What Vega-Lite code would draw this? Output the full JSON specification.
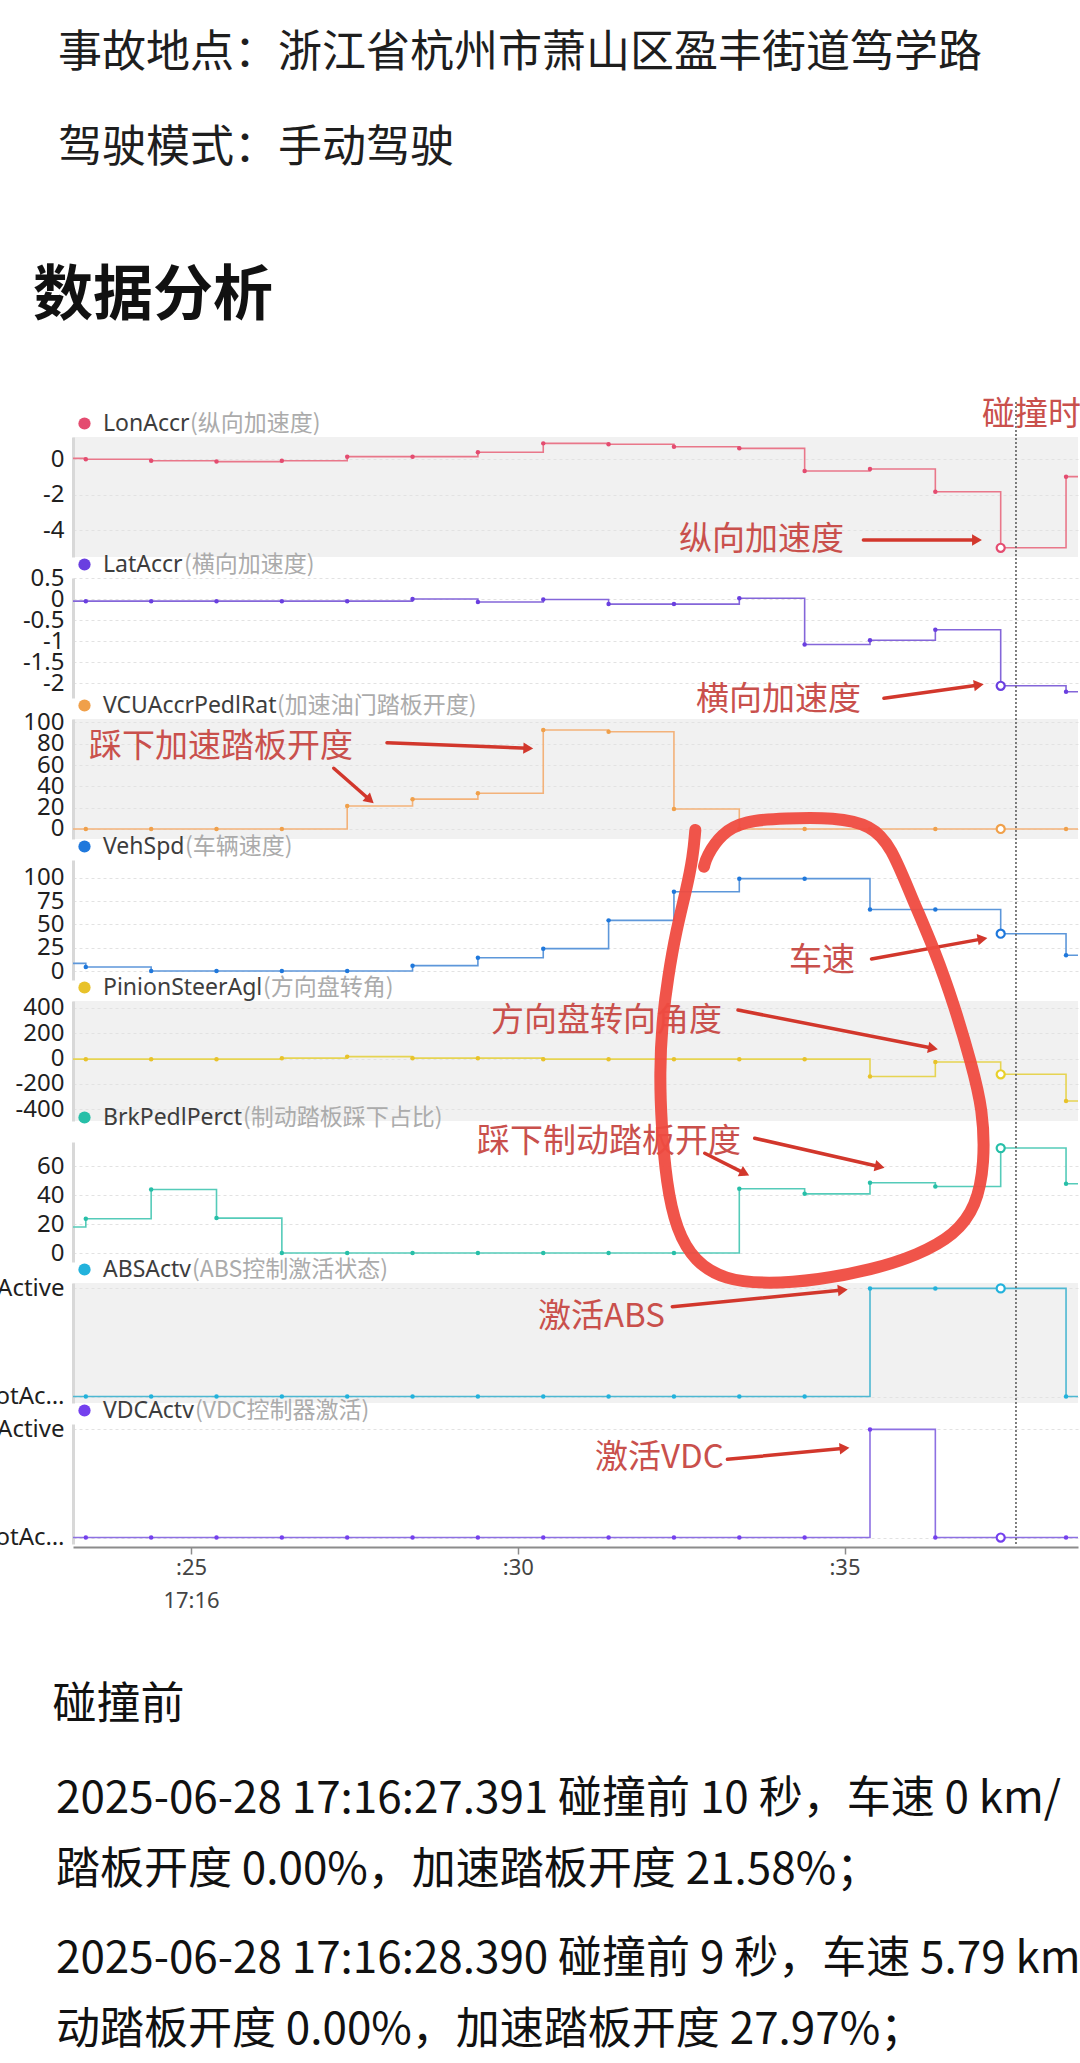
{
  "$schema": "https://vega.github.io/schema/vega-lite/v6.json",
  "background": "white",
  "padding": {"left": -24, "top": 32, "right": 0, "bottom": 0},
  "title": {
    "text": ["事故地点：浙江省杭州市萧山区盈丰街道笃学路", "驾驶模式：手动驾驶"],
    "anchor": "start", "frame": "group", "dx": -15,
    "font": "Noto Sans CJK SC", "fontSize": 44, "fontWeight": "normal", "color": "#1e1e1e",
    "lineHeight": 95, "offset": 96
  },
  "datasets": {
    "sig": [
      {"s":"Lon","t":22.39,"v":0.05},{"s":"Lon","t":23.39,"v":0},{"s":"Lon","t":24.39,"v":-0.08},{"s":"Lon","t":25.39,"v":-0.13},{"s":"Lon","t":26.39,"v":-0.08},{"s":"Lon","t":27.39,"v":0.15},{"s":"Lon","t":28.39,"v":0.15},{"s":"Lon","t":29.39,"v":0.4},{"s":"Lon","t":30.39,"v":0.9},{"s":"Lon","t":31.39,"v":0.85},{"s":"Lon","t":32.39,"v":0.71},{"s":"Lon","t":33.39,"v":0.62},{"s":"Lon","t":34.39,"v":-0.66},{"s":"Lon","t":35.39,"v":-0.55},{"s":"Lon","t":36.39,"v":-1.83},{"s":"Lon","t":37.39,"v":-5.0},{"s":"Lon","t":38.39,"v":-0.98},{"s":"Lon","t":39.39,"v":-0.98},
      {"s":"Lat","t":22.39,"v":-0.05},{"s":"Lat","t":23.39,"v":-0.05},{"s":"Lat","t":24.39,"v":-0.05},{"s":"Lat","t":25.39,"v":-0.05},{"s":"Lat","t":26.39,"v":-0.05},{"s":"Lat","t":27.39,"v":-0.05},{"s":"Lat","t":28.39,"v":0.0},{"s":"Lat","t":29.39,"v":-0.07},{"s":"Lat","t":30.39,"v":-0.01},{"s":"Lat","t":31.39,"v":-0.12},{"s":"Lat","t":32.39,"v":-0.12},{"s":"Lat","t":33.39,"v":0.02},{"s":"Lat","t":34.39,"v":-1.08},{"s":"Lat","t":35.39,"v":-0.98},{"s":"Lat","t":36.39,"v":-0.73},{"s":"Lat","t":37.39,"v":-2.06},{"s":"Lat","t":38.39,"v":-2.2},{"s":"Lat","t":39.39,"v":-2.2},
      {"s":"VCU","t":22.39,"v":0},{"s":"VCU","t":23.39,"v":0},{"s":"VCU","t":24.39,"v":0},{"s":"VCU","t":25.39,"v":0},{"s":"VCU","t":26.39,"v":0},{"s":"VCU","t":27.39,"v":21.58},{"s":"VCU","t":28.39,"v":27.97},{"s":"VCU","t":29.39,"v":33.5},{"s":"VCU","t":30.39,"v":92.9},{"s":"VCU","t":31.39,"v":91.3},{"s":"VCU","t":32.39,"v":18.8},{"s":"VCU","t":33.39,"v":0},{"s":"VCU","t":34.39,"v":0},{"s":"VCU","t":35.39,"v":0},{"s":"VCU","t":36.39,"v":0},{"s":"VCU","t":37.39,"v":0},{"s":"VCU","t":38.39,"v":0},{"s":"VCU","t":39.39,"v":0},
      {"s":"Veh","t":22.39,"v":8.2},{"s":"Veh","t":23.39,"v":4.3},{"s":"Veh","t":24.39,"v":0},{"s":"Veh","t":25.39,"v":0},{"s":"Veh","t":26.39,"v":0},{"s":"Veh","t":27.39,"v":0},{"s":"Veh","t":28.39,"v":5.79},{"s":"Veh","t":29.39,"v":14.3},{"s":"Veh","t":30.39,"v":24},{"s":"Veh","t":31.39,"v":54.3},{"s":"Veh","t":32.39,"v":85},{"s":"Veh","t":33.39,"v":99},{"s":"Veh","t":34.39,"v":99},{"s":"Veh","t":35.39,"v":66},{"s":"Veh","t":36.39,"v":66},{"s":"Veh","t":37.39,"v":40},{"s":"Veh","t":38.39,"v":17},{"s":"Veh","t":39.39,"v":17},
      {"s":"Pin","t":22.39,"v":-5},{"s":"Pin","t":23.39,"v":-5},{"s":"Pin","t":24.39,"v":-5},{"s":"Pin","t":25.39,"v":-5},{"s":"Pin","t":26.39,"v":3},{"s":"Pin","t":27.39,"v":15},{"s":"Pin","t":28.39,"v":3},{"s":"Pin","t":29.39,"v":3},{"s":"Pin","t":30.39,"v":-5},{"s":"Pin","t":31.39,"v":-5},{"s":"Pin","t":32.39,"v":-5},{"s":"Pin","t":33.39,"v":-5},{"s":"Pin","t":34.39,"v":-5},{"s":"Pin","t":35.39,"v":-142},{"s":"Pin","t":36.39,"v":-27},{"s":"Pin","t":37.39,"v":-124},{"s":"Pin","t":38.39,"v":-334},{"s":"Pin","t":39.39,"v":-334},
      {"s":"Brk","t":22.39,"v":18},{"s":"Brk","t":23.39,"v":23.7},{"s":"Brk","t":24.39,"v":44},{"s":"Brk","t":25.39,"v":24.2},{"s":"Brk","t":26.39,"v":0},{"s":"Brk","t":27.39,"v":0},{"s":"Brk","t":28.39,"v":0},{"s":"Brk","t":29.39,"v":0},{"s":"Brk","t":30.39,"v":0},{"s":"Brk","t":31.39,"v":0},{"s":"Brk","t":32.39,"v":0},{"s":"Brk","t":33.39,"v":44.5},{"s":"Brk","t":34.39,"v":41},{"s":"Brk","t":35.39,"v":48.7},{"s":"Brk","t":36.39,"v":46.1},{"s":"Brk","t":37.39,"v":72.7},{"s":"Brk","t":38.39,"v":48},{"s":"Brk","t":39.39,"v":48},
      {"s":"ABS","t":22.39,"v":0},{"s":"ABS","t":23.39,"v":0},{"s":"ABS","t":24.39,"v":0},{"s":"ABS","t":25.39,"v":0},{"s":"ABS","t":26.39,"v":0},{"s":"ABS","t":27.39,"v":0},{"s":"ABS","t":28.39,"v":0},{"s":"ABS","t":29.39,"v":0},{"s":"ABS","t":30.39,"v":0},{"s":"ABS","t":31.39,"v":0},{"s":"ABS","t":32.39,"v":0},{"s":"ABS","t":33.39,"v":0},{"s":"ABS","t":34.39,"v":0},{"s":"ABS","t":35.39,"v":1},{"s":"ABS","t":36.39,"v":1},{"s":"ABS","t":37.39,"v":1},{"s":"ABS","t":38.39,"v":0},{"s":"ABS","t":39.39,"v":0},
      {"s":"VDC","t":22.39,"v":0},{"s":"VDC","t":23.39,"v":0},{"s":"VDC","t":24.39,"v":0},{"s":"VDC","t":25.39,"v":0},{"s":"VDC","t":26.39,"v":0},{"s":"VDC","t":27.39,"v":0},{"s":"VDC","t":28.39,"v":0},{"s":"VDC","t":29.39,"v":0},{"s":"VDC","t":30.39,"v":0},{"s":"VDC","t":31.39,"v":0},{"s":"VDC","t":32.39,"v":0},{"s":"VDC","t":33.39,"v":0},{"s":"VDC","t":34.39,"v":0},{"s":"VDC","t":35.39,"v":1},{"s":"VDC","t":36.39,"v":0},{"s":"VDC","t":37.39,"v":0},{"s":"VDC","t":38.39,"v":0},{"s":"VDC","t":39.39,"v":0}
    ],
    "ann": [
      {"p":"Lon","label":"碰撞时","t":37.104,"v":2.503},
      {"p":"Lon","label":"纵向加速度","t":32.467,"v":-4.559},
      {"p":"Lat","label":"横向加速度","t":32.728,"v":-2.398},
      {"p":"VCU","label":"踩下加速踏板开度","t":23.439,"v":77.2},
      {"p":"Veh","label":"车速","t":34.151,"v":10.7},
      {"p":"Pin","label":"方向盘转向角度","t":29.591,"v":295.5},
      {"p":"Brk","label":"踩下制动踏板开度","t":29.376,"v":77.1},
      {"p":"ABS","label":"激活ABS","t":30.31,"v":0.738},
      {"p":"VDC","label":"激活VDC","t":31.182,"v":0.733}
    ],
    "arrows": [
      {"p":"Lon","id":"lon","k":0,"t":35.289,"v":-4.559},{"p":"Lon","id":"lon","k":1,"t":37.027,"v":-4.559},
      {"p":"Lat","id":"lat","k":0,"t":35.604,"v":-2.357},{"p":"Lat","id":"lat","k":1,"t":37.055,"v":-2.042},
      {"p":"VCU","id":"vcu1","k":0,"t":27.999,"v":81.0},{"p":"VCU","id":"vcu1","k":1,"t":30.161,"v":75.7},
      {"p":"VCU","id":"vcu2","k":0,"t":27.184,"v":57.0},{"p":"VCU","id":"vcu2","k":1,"t":27.738,"v":27.2},
      {"p":"Veh","id":"veh","k":0,"t":35.413,"v":12.9},{"p":"Veh","id":"veh","k":1,"t":37.112,"v":34.5},
      {"p":"Pin","id":"pin","k":0,"t":33.37,"v":382},{"p":"Pin","id":"pin","k":1,"t":36.354,"v":80.6},
      {"p":"Brk","id":"brkA","k":0,"t":33.626,"v":79.5},{"p":"Brk","id":"brkA","k":1,"t":35.539,"v":59.8},
      {"p":"Brk","id":"brkB","k":0,"t":32.861,"v":69.1},{"p":"Brk","id":"brkB","k":1,"t":33.473,"v":55.2},
      {"p":"ABS","id":"abs","k":0,"t":32.365,"v":0.831},{"p":"ABS","id":"abs","k":1,"t":34.974,"v":0.985},
      {"p":"VDC","id":"vdc","k":0,"t":33.208,"v":0.723},{"p":"VDC","id":"vdc","k":1,"t":35.0,"v":0.825}
    ],
    "loop": [
      {"i":0,"t":32.717,"v":6.545},{"i":1,"t":32.682,"v":6.298},{"i":2,"t":32.579,"v":5.99},{"i":3,"t":32.426,"v":5.62},{"i":4,"t":32.299,"v":5.188},{"i":5,"t":32.207,"v":4.757},{"i":6,"t":32.172,"v":4.294},{"i":7,"t":32.197,"v":3.832},{"i":8,"t":32.273,"v":3.277},{"i":9,"t":32.426,"v":2.845},{"i":10,"t":32.708,"v":2.551},{"i":11,"t":33.167,"v":2.382},{"i":12,"t":33.829,"v":2.345},{"i":13,"t":34.594,"v":2.382},{"i":14,"t":35.41,"v":2.475},{"i":15,"t":36.125,"v":2.613},{"i":16,"t":36.686,"v":2.798},{"i":17,"t":37.017,"v":3.06},{"i":18,"t":37.145,"v":3.462},{"i":19,"t":37.119,"v":3.955},{"i":20,"t":36.94,"v":4.387},{"i":21,"t":36.686,"v":4.91},{"i":22,"t":36.38,"v":5.435},{"i":23,"t":36.022,"v":5.928},{"i":24,"t":35.716,"v":6.39},{"i":25,"t":35.41,"v":6.591},{"i":26,"t":34.85,"v":6.662},{"i":27,"t":34.085,"v":6.653},{"i":28,"t":33.473,"v":6.631},{"i":29,"t":33.115,"v":6.514},{"i":30,"t":32.885,"v":6.298},{"i":31,"t":32.85,"v":6.205}
    ],
    "coll": [{"t":37.624,"v":-0.06,"v2":10.52}]
  },
  "spacing": 21,
  "bounds": "flush",
  "resolve": {"scale": {"x": "independent", "y": "independent", "color": "independent"}, "legend": {"color": "independent"}},
  "vconcat": [
    {
      "width": 1005, "height": 120,
      "view": {"fill": "#f1f1f1", "stroke": null},
      "title": {"text": "数据分析", "anchor": "start", "frame": "group", "dx": -40, "font": "Noto Sans CJK SC", "fontSize": 60, "fontWeight": "bold", "color": "#111111", "offset": 71},
      "encoding": {
        "x": {"field": "t", "type": "quantitative", "scale": {"domain": [23.194, 38.573], "nice": false, "zero": false}, "axis": null},
        "y": {"field": "v", "type": "quantitative", "scale": {"domain": [-5.52, 1.26], "nice": false, "zero": false}, "axis": {"values": [0, -2, -4], "title": null}}
      },
      "layer": [
        {"data": {"name": "sig"}, "transform": [{"filter": "datum.s == 'Lon'"}], "mark": {"type": "line", "interpolate": "step-after", "color": "#e9778a", "strokeWidth": 1.6, "clip": true}},
        {"data": {"name": "sig"}, "transform": [{"filter": "datum.s == 'Lon'"}], "mark": {"type": "point", "filled": true, "size": 20, "opacity": 1, "clip": true}, "encoding": {"color": {"datum": "LonAccr", "scale": {"range": ["#e44c70"]}, "legend": {"title": "(纵向加速度)"}}}},
        {"data": {"name": "sig"}, "transform": [{"filter": "datum.s == 'Lon' && datum.t == 37.39"}], "mark": {"type": "point", "filled": true, "fill": "white", "stroke": "#e44c70", "strokeWidth": 2.2, "size": 65, "opacity": 1}},
        {"data": {"name": "ann"}, "transform": [{"filter": "datum.p == 'Lon'"}], "mark": {"type": "text"}, "encoding": {"text": {"field": "label"}}},
        {"data": {"name": "arrows"}, "transform": [{"filter": "datum.p == 'Lon'"}], "mark": {"type": "line", "color": "#d2372c", "strokeWidth": 3.5, "strokeCap": "round"}, "encoding": {"detail": {"field": "id"}, "order": {"field": "k"}}},
        {"data": {"name": "arrows"}, "transform": [{"filter": "datum.id == 'lon' && datum.k == 1"}], "mark": {"type": "point", "shape": "triangle-right", "filled": true, "size": 130, "opacity": 1, "color": "#d2372c", "angle": 0}}
      ]
    },
    {
      "width": 1005, "height": 120,
      "view": {"stroke": null},
      "encoding": {
        "x": {"field": "t", "type": "quantitative", "scale": {"domain": [23.194, 38.573], "nice": false, "zero": false}, "axis": null},
        "y": {"field": "v", "type": "quantitative", "scale": {"domain": [-2.35, 0.5], "nice": false, "zero": false}, "axis": {"values": [0.5, 0, -0.5, -1, -1.5, -2], "format": "~g", "title": null}}
      },
      "layer": [
        {"data": {"name": "sig"}, "transform": [{"filter": "datum.s == 'Lat'"}], "mark": {"type": "line", "interpolate": "step-after", "color": "#8466d9", "strokeWidth": 1.6, "clip": true}},
        {"data": {"name": "sig"}, "transform": [{"filter": "datum.s == 'Lat'"}], "mark": {"type": "point", "filled": true, "size": 20, "opacity": 1, "clip": true}, "encoding": {"color": {"datum": "LatAccr", "scale": {"range": ["#6a3fe0"]}, "legend": {"title": "(横向加速度)"}}}},
        {"data": {"name": "sig"}, "transform": [{"filter": "datum.s == 'Lat' && datum.t == 37.39"}], "mark": {"type": "point", "filled": true, "fill": "white", "stroke": "#6a3fe0", "strokeWidth": 2.2, "size": 65, "opacity": 1}},
        {"data": {"name": "ann"}, "transform": [{"filter": "datum.p == 'Lat'"}], "mark": {"type": "text"}, "encoding": {"text": {"field": "label"}}},
        {"data": {"name": "arrows"}, "transform": [{"filter": "datum.p == 'Lat'"}], "mark": {"type": "line", "color": "#d2372c", "strokeWidth": 3.5, "strokeCap": "round"}, "encoding": {"detail": {"field": "id"}, "order": {"field": "k"}}},
        {"data": {"name": "arrows"}, "transform": [{"filter": "datum.id == 'lat' && datum.k == 1"}], "mark": {"type": "point", "shape": "triangle-right", "filled": true, "size": 130, "opacity": 1, "color": "#d2372c", "angle": -8}}
      ]
    },
    {
      "width": 1005, "height": 120,
      "view": {"fill": "#f1f1f1", "stroke": null},
      "encoding": {
        "x": {"field": "t", "type": "quantitative", "scale": {"domain": [23.194, 38.573], "nice": false, "zero": false}, "axis": null},
        "y": {"field": "v", "type": "quantitative", "scale": {"domain": [-9.4, 103.2], "nice": false, "zero": false}, "axis": {"values": [0, 20, 40, 60, 80, 100], "title": null}}
      },
      "layer": [
        {"data": {"name": "sig"}, "transform": [{"filter": "datum.s == 'VCU'"}], "mark": {"type": "line", "interpolate": "step-after", "color": "#f3b27a", "strokeWidth": 1.6, "clip": true}},
        {"data": {"name": "sig"}, "transform": [{"filter": "datum.s == 'VCU'"}], "mark": {"type": "point", "filled": true, "size": 20, "opacity": 1, "clip": true}, "encoding": {"color": {"datum": "VCUAccrPedlRat", "scale": {"range": ["#f0a04a"]}, "legend": {"title": "(加速油门踏板开度)"}}}},
        {"data": {"name": "sig"}, "transform": [{"filter": "datum.s == 'VCU' && datum.t == 37.39"}], "mark": {"type": "point", "filled": true, "fill": "white", "stroke": "#f0a04a", "strokeWidth": 2.2, "size": 65, "opacity": 1}},
        {"data": {"name": "ann"}, "transform": [{"filter": "datum.p == 'VCU'"}], "mark": {"type": "text"}, "encoding": {"text": {"field": "label"}}},
        {"data": {"name": "arrows"}, "transform": [{"filter": "datum.p == 'VCU'"}], "mark": {"type": "line", "color": "#d2372c", "strokeWidth": 3.5, "strokeCap": "round"}, "encoding": {"detail": {"field": "id"}, "order": {"field": "k"}}},
        {"data": {"name": "arrows"}, "transform": [{"filter": "datum.id == 'vcu1' && datum.k == 1"}], "mark": {"type": "point", "shape": "triangle-right", "filled": true, "size": 130, "opacity": 1, "color": "#d2372c", "angle": 2.3}},
        {"data": {"name": "arrows"}, "transform": [{"filter": "datum.id == 'vcu2' && datum.k == 1"}], "mark": {"type": "point", "shape": "triangle-right", "filled": true, "size": 130, "opacity": 1, "color": "#d2372c", "angle": 41}}
      ]
    },
    {
      "width": 1005, "height": 120,
      "view": {"stroke": null},
      "encoding": {
        "x": {"field": "t", "type": "quantitative", "scale": {"domain": [23.194, 38.573], "nice": false, "zero": false}, "axis": null},
        "y": {"field": "v", "type": "quantitative", "scale": {"domain": [-9.6, 119], "nice": false, "zero": false}, "axis": {"values": [0, 25, 50, 75, 100], "title": null}}
      },
      "layer": [
        {"data": {"name": "sig"}, "transform": [{"filter": "datum.s == 'Veh'"}], "mark": {"type": "line", "interpolate": "step-after", "color": "#5d97da", "strokeWidth": 1.6, "clip": true}},
        {"data": {"name": "sig"}, "transform": [{"filter": "datum.s == 'Veh'"}], "mark": {"type": "point", "filled": true, "size": 20, "opacity": 1, "clip": true}, "encoding": {"color": {"datum": "VehSpd", "scale": {"range": ["#1f78dc"]}, "legend": {"title": "(车辆速度)"}}}},
        {"data": {"name": "sig"}, "transform": [{"filter": "datum.s == 'Veh' && datum.t == 37.39"}], "mark": {"type": "point", "filled": true, "fill": "white", "stroke": "#1f78dc", "strokeWidth": 2.2, "size": 65, "opacity": 1}},
        {"data": {"name": "ann"}, "transform": [{"filter": "datum.p == 'Veh'"}], "mark": {"type": "text"}, "encoding": {"text": {"field": "label"}}},
        {"data": {"name": "arrows"}, "transform": [{"filter": "datum.p == 'Veh'"}], "mark": {"type": "line", "color": "#d2372c", "strokeWidth": 3.5, "strokeCap": "round"}, "encoding": {"detail": {"field": "id"}, "order": {"field": "k"}}},
        {"data": {"name": "arrows"}, "transform": [{"filter": "datum.id == 'veh' && datum.k == 1"}], "mark": {"type": "point", "shape": "triangle-right", "filled": true, "size": 130, "opacity": 1, "color": "#d2372c", "angle": -10}}
      ]
    },
    {
      "width": 1005, "height": 120,
      "view": {"fill": "#f1f1f1", "stroke": null},
      "encoding": {
        "x": {"field": "t", "type": "quantitative", "scale": {"domain": [23.194, 38.573], "nice": false, "zero": false}, "axis": null},
        "y": {"field": "v", "type": "quantitative", "scale": {"domain": [-492, 453], "nice": false, "zero": false}, "axis": {"values": [-400, -200, 0, 200, 400], "title": null}}
      },
      "layer": [
        {"data": {"name": "sig"}, "transform": [{"filter": "datum.s == 'Pin'"}], "mark": {"type": "line", "interpolate": "step-after", "color": "#e6d452", "strokeWidth": 1.6, "clip": true}},
        {"data": {"name": "sig"}, "transform": [{"filter": "datum.s == 'Pin'"}], "mark": {"type": "point", "filled": true, "size": 20, "opacity": 1, "clip": true}, "encoding": {"color": {"datum": "PinionSteerAgl", "scale": {"range": ["#e8c22a"]}, "legend": {"title": "(方向盘转角)"}}}},
        {"data": {"name": "sig"}, "transform": [{"filter": "datum.s == 'Pin' && datum.t == 37.39"}], "mark": {"type": "point", "filled": true, "fill": "white", "stroke": "#e8d02a", "strokeWidth": 2.2, "size": 65, "opacity": 1}},
        {"data": {"name": "ann"}, "transform": [{"filter": "datum.p == 'Pin'"}], "mark": {"type": "text"}, "encoding": {"text": {"field": "label"}}},
        {"data": {"name": "arrows"}, "transform": [{"filter": "datum.p == 'Pin'"}], "mark": {"type": "line", "color": "#d2372c", "strokeWidth": 3.5, "strokeCap": "round"}, "encoding": {"detail": {"field": "id"}, "order": {"field": "k"}}},
        {"data": {"name": "arrows"}, "transform": [{"filter": "datum.id == 'pin' && datum.k == 1"}], "mark": {"type": "point", "shape": "triangle-right", "filled": true, "size": 130, "opacity": 1, "color": "#d2372c", "angle": 11}}
      ]
    },
    {
      "width": 1005, "height": 120,
      "view": {"stroke": null},
      "encoding": {
        "x": {"field": "t", "type": "quantitative", "scale": {"domain": [23.194, 38.573], "nice": false, "zero": false}, "axis": null},
        "y": {"field": "v", "type": "quantitative", "scale": {"domain": [-6.2, 76.9], "nice": false, "zero": false}, "axis": {"values": [0, 20, 40, 60], "title": null}}
      },
      "layer": [
        {"data": {"name": "sig"}, "transform": [{"filter": "datum.s == 'Brk'"}], "mark": {"type": "line", "interpolate": "step-after", "color": "#55cbb9", "strokeWidth": 1.6, "clip": true}},
        {"data": {"name": "sig"}, "transform": [{"filter": "datum.s == 'Brk'"}], "mark": {"type": "point", "filled": true, "size": 20, "opacity": 1, "clip": true}, "encoding": {"color": {"datum": "BrkPedlPerct", "scale": {"range": ["#27bfa8"]}, "legend": {"title": "(制动踏板踩下占比)"}}}},
        {"data": {"name": "sig"}, "transform": [{"filter": "datum.s == 'Brk' && datum.t == 37.39"}], "mark": {"type": "point", "filled": true, "fill": "white", "stroke": "#27bfa8", "strokeWidth": 2.2, "size": 65, "opacity": 1}},
        {"data": {"name": "ann"}, "transform": [{"filter": "datum.p == 'Brk'"}], "mark": {"type": "text"}, "encoding": {"text": {"field": "label"}}},
        {"data": {"name": "arrows"}, "transform": [{"filter": "datum.p == 'Brk'"}], "mark": {"type": "line", "color": "#d2372c", "strokeWidth": 3.5, "strokeCap": "round"}, "encoding": {"detail": {"field": "id"}, "order": {"field": "k"}}},
        {"data": {"name": "arrows"}, "transform": [{"filter": "datum.id == 'brkA' && datum.k == 1"}], "mark": {"type": "point", "shape": "triangle-right", "filled": true, "size": 130, "opacity": 1, "color": "#d2372c", "angle": 13}},
        {"data": {"name": "arrows"}, "transform": [{"filter": "datum.id == 'brkB' && datum.k == 1"}], "mark": {"type": "point", "shape": "triangle-right", "filled": true, "size": 130, "opacity": 1, "color": "#d2372c", "angle": 27}}
      ]
    },
    {
      "width": 1005, "height": 120,
      "view": {"fill": "#f1f1f1", "stroke": null},
      "encoding": {
        "x": {"field": "t", "type": "quantitative", "scale": {"domain": [23.194, 38.573], "nice": false, "zero": false}, "axis": null},
        "y": {"field": "v", "type": "quantitative", "scale": {"domain": [-0.06, 1.05], "nice": false, "zero": false}, "axis": {"values": [0, 1], "title": null, "labelExpr": "datum.value == 1 ? 'Active' : 'NotActive'"}}
      },
      "layer": [
        {"data": {"name": "sig"}, "transform": [{"filter": "datum.s == 'ABS'"}], "mark": {"type": "line", "interpolate": "step-after", "color": "#4db8d2", "strokeWidth": 1.6, "clip": true}},
        {"data": {"name": "sig"}, "transform": [{"filter": "datum.s == 'ABS'"}], "mark": {"type": "point", "filled": true, "size": 20, "opacity": 1, "clip": true}, "encoding": {"color": {"datum": "ABSActv", "scale": {"range": ["#22b2dc"]}, "legend": {"title": "(ABS控制激活状态)"}}}},
        {"data": {"name": "sig"}, "transform": [{"filter": "datum.s == 'ABS' && datum.t == 37.39"}], "mark": {"type": "point", "filled": true, "fill": "white", "stroke": "#22b2dc", "strokeWidth": 2.2, "size": 65, "opacity": 1}},
        {"data": {"name": "ann"}, "transform": [{"filter": "datum.p == 'ABS'"}], "mark": {"type": "text"}, "encoding": {"text": {"field": "label"}}},
        {"data": {"name": "arrows"}, "transform": [{"filter": "datum.p == 'ABS'"}], "mark": {"type": "line", "color": "#d2372c", "strokeWidth": 3.5, "strokeCap": "round"}, "encoding": {"detail": {"field": "id"}, "order": {"field": "k"}}},
        {"data": {"name": "arrows"}, "transform": [{"filter": "datum.id == 'abs' && datum.k == 1"}], "mark": {"type": "point", "shape": "triangle-right", "filled": true, "size": 130, "opacity": 1, "color": "#d2372c", "angle": -5.6}}
      ]
    },
    {
      "width": 1005, "height": 120,
      "view": {"stroke": null},
      "title": {
        "text": ["2025-06-28 17:16:27.391 碰撞前 10 秒，车速 0 km/", "踏板开度 0.00%，加速踏板开度 21.58%；"],
        "subtitle": ["2025-06-28 17:16:28.390 碰撞前 9 秒，车速 5.79 km", "动踏板开度 0.00%，加速踏板开度 27.97%；"],
        "orient": "bottom", "anchor": "start", "frame": "group", "dx": -17,
        "font": "Noto Sans CJK SC", "fontSize": 44, "fontWeight": "normal", "color": "#111111", "lineHeight": 71,
        "subtitleFont": "Noto Sans CJK SC", "subtitleFontSize": 44, "subtitleFontWeight": "normal", "subtitleColor": "#111111", "subtitleLineHeight": 71, "subtitlePadding": 45,
        "offset": 51
      },
      "encoding": {
        "x": {"field": "t", "type": "quantitative", "scale": {"domain": [23.194, 38.573], "nice": false, "zero": false},
              "axis": {"values": [25, 30, 35], "labelExpr": "datum.value == 25 ? [':25', '17:16'] : ':' + datum.value", "grid": false, "domainColor": "#8c8c8c", "domainWidth": 2, "tickColor": "#8c8c8c", "tickSize": 7, "tickWidth": 1.5, "labelFont": "Noto Sans", "labelFontSize": 22, "labelColor": "#444444", "labelLineHeight": 33, "labelPadding": 3, "labelFlush": false, "offset": 3,
                       "title": "碰撞前", "titleFont": "Noto Sans CJK SC", "titleFontSize": 44, "titleFontWeight": "normal", "titleColor": "#111111", "titleAnchor": "start", "titleAlign": "left", "titleX": -21, "titlePadding": 72}},
        "y": {"field": "v", "type": "quantitative", "scale": {"domain": [-0.06, 1.05], "nice": false, "zero": false}, "axis": {"values": [0, 1], "title": null, "labelExpr": "datum.value == 1 ? 'Active' : 'NotActive'"}}
      },
      "layer": [
        {"data": {"name": "sig"}, "transform": [{"filter": "datum.s == 'VDC'"}], "mark": {"type": "line", "interpolate": "step-after", "color": "#8d70e2", "strokeWidth": 1.6, "clip": true}},
        {"data": {"name": "sig"}, "transform": [{"filter": "datum.s == 'VDC'"}], "mark": {"type": "point", "filled": true, "size": 20, "opacity": 1, "clip": true}, "encoding": {"color": {"datum": "VDCActv", "scale": {"range": ["#7440ee"]}, "legend": {"title": "(VDC控制器激活)"}}}},
        {"data": {"name": "sig"}, "transform": [{"filter": "datum.s == 'VDC' && datum.t == 37.39"}], "mark": {"type": "point", "filled": true, "fill": "white", "stroke": "#7440ee", "strokeWidth": 2.2, "size": 65, "opacity": 1}},
        {"data": {"name": "ann"}, "transform": [{"filter": "datum.p == 'VDC'"}], "mark": {"type": "text"}, "encoding": {"text": {"field": "label"}}},
        {"data": {"name": "arrows"}, "transform": [{"filter": "datum.p == 'VDC'"}], "mark": {"type": "line", "color": "#d2372c", "strokeWidth": 3.5, "strokeCap": "round"}, "encoding": {"detail": {"field": "id"}, "order": {"field": "k"}}},
        {"data": {"name": "arrows"}, "transform": [{"filter": "datum.id == 'vdc' && datum.k == 1"}], "mark": {"type": "point", "shape": "triangle-right", "filled": true, "size": 130, "opacity": 1, "color": "#d2372c", "angle": -5.4}},
        {"data": {"name": "coll"}, "mark": {"type": "rule", "color": "#555555", "strokeWidth": 1.5, "strokeDash": [2, 2]}, "encoding": {"y2": {"field": "v2"}}},
        {"data": {"name": "loop"}, "mark": {"type": "line", "color": "#ef4b40", "strokeWidth": 12, "interpolate": "basis", "strokeCap": "round", "strokeJoin": "round", "opacity": 0.95}, "encoding": {"order": {"field": "i"}}}
      ]
    }
  ],
  "config": {
    "view": {"stroke": null},
    "locale": {"number": {"decimal": ".", "thousands": ",", "grouping": [3], "currency": ["", ""], "minus": "-"}},
    "axisY": {"domainColor": "#d8d8d8", "domainWidth": 3, "ticks": false, "labelFont": "Noto Sans", "labelFontSize": 24, "labelColor": "#1f1f1f", "labelPadding": 9, "labelOverlap": false, "labelFlush": false, "gridColor": "#e2e2e2", "gridDash": [3, 3], "gridWidth": 1, "labelLimit": 90},
    "legend": {"orient": "top", "offset": 1, "padding": 0, "symbolType": "circle", "symbolSize": 150, "symbolStrokeWidth": 0, "labelFont": "Noto Sans", "labelFontSize": 23, "labelColor": "#3d3d3d", "labelOffset": 7, "labelLimit": 400, "titleOrient": "right", "titleFont": "Noto Sans CJK SC", "titleFontSize": 23, "titleFontWeight": "normal", "titleColor": "#ababab", "titlePadding": 1, "titleLimit": 400},
    "text": {"font": "Noto Sans CJK SC", "fontSize": 33, "color": "#c9504c", "align": "left", "baseline": "middle"}
  }
}
